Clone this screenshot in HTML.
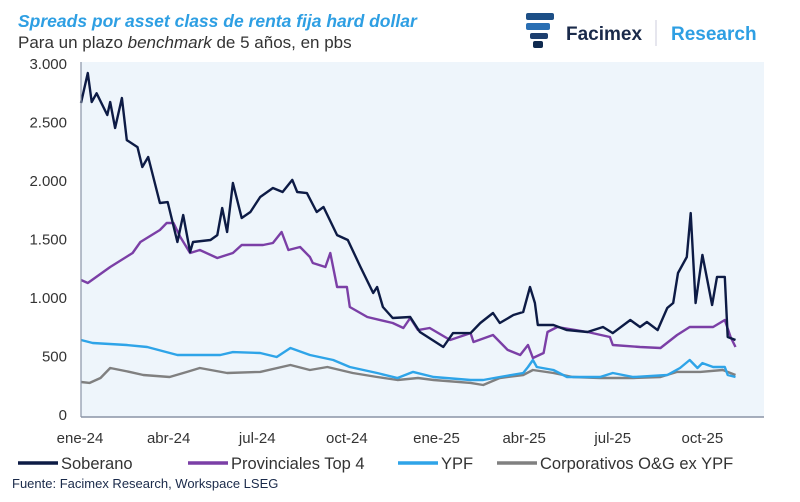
<!DOCTYPE html>
<html><head><meta charset="utf-8"><style>
body{margin:0;background:#fff;width:800px;height:502px;overflow:hidden;font-family:"Liberation Sans",sans-serif;}
svg{display:block}
</style></head><body>
<svg id="chart" width="800" height="502" xmlns="http://www.w3.org/2000/svg">
<text x="18" y="27" font-size="17.5" font-style="italic" font-weight="bold" fill="#2e9fe3">Spreads por asset class de renta fija hard dollar</text>
<text x="18" y="48" font-size="17" fill="#333">Para un plazo <tspan font-style="italic">benchmark</tspan> de 5 años, en pbs</text>
<g>
<rect x="526" y="13" width="28" height="7" rx="2" fill="#1d4f86"/>
<rect x="526" y="23" width="24" height="7" rx="2" fill="#2a6fb3"/>
<rect x="530" y="33" width="18" height="6" rx="2" fill="#1d3f6e"/>
<rect x="533" y="41" width="10" height="7" rx="2" fill="#0f2a4f"/>
<text x="566" y="40" font-size="19" font-weight="bold" fill="#1a2a4a">Facimex</text>
<line x1="656" y1="20" x2="656" y2="46" stroke="#ccd" stroke-width="1"/>
<text x="671" y="40" font-size="19" font-weight="bold" fill="#2e9fe3">Research</text>
</g>
<rect x="81" y="62" width="683" height="355" fill="#eef5fb"/>
<g id="yaxis"></g><g id="xaxis"></g><g id="series"></g>
<line x1="81" y1="62" x2="81" y2="417" stroke="#8a94a6" stroke-width="1.2"/>
<line x1="81" y1="417" x2="764" y2="417" stroke="#8a94a6" stroke-width="1.5"/>
<g id="legend"></g>
<text x="12" y="488" font-size="13" fill="#1a2a4a">Fuente: Facimex Research, Workspace LSEG</text>
</svg>
<script>
const yTicks=[0,500,1000,1500,2000,2500,3000];
const yTickLabels=["0","500","1.000","1.500","2.000","2.500","3.000"];
const xTickDays=[0,91,182,274,366,456,547,639];
const xTickLabels=["ene-24","abr-24","jul-24","oct-24","ene-25","abr-25","jul-25","oct-25"];
const seriesNames=["Soberano","Provinciales Top 4","YPF","Corporativos O&G ex YPF"];
const soberanoDays=[1,8,12,17,28,31,36,43,48,59,64,70,82,90,100,106,113,116,134,141,146,151,157,166,175,185,198,208,218,223,233,243,250,264,275,288,301,305,311,321,339,349,373,383,401,411,424,431,445,455,462,467,470,486,500,521,537,547,565,575,582,593,603,609,614,623,627,632,639,644,649,654,662,665,673];
const soberanoVals=[2667,2923,2675,2750,2564,2675,2453,2709,2350,2290,2120,2205,1812,1820,1479,1709,1393,1479,1496,1538,1769,1564,1983,1684,1735,1863,1940,1906,2009,1906,1897,1735,1778,1538,1496,1265,1043,1094,923,829,838,709,581,700,700,786,872,786,855,880,1094,957,769,769,726,709,752,700,812,752,795,726,915,957,1214,1350,1726,957,1368,1154,940,1180,1180,667,641];
const provDays=[1,8,31,54,62,82,89,96,103,113,123,141,157,166,188,198,207,214,226,236,239,252,257,264,274,277,295,321,332,339,347,359,380,401,404,424,439,452,460,465,476,480,490,521,544,547,575,596,613,626,650,662,668,673];
const provVals=[1154,1128,1265,1385,1479,1581,1641,1641,1521,1385,1410,1342,1385,1453,1453,1470,1564,1410,1436,1350,1299,1265,1385,1094,1094,923,838,786,744,829,726,744,641,700,624,684,556,513,598,487,530,709,752,709,667,598,581,573,684,752,752,812,667,581];
const ypfDays=[1,13,48,69,100,123,144,157,185,202,216,236,260,277,305,326,342,363,401,414,431,455,460,465,469,486,500,534,547,568,603,616,626,634,639,650,662,665,673];
const ypfVals=[641,615,598,581,513,513,513,538,530,496,573,513,470,410,359,316,368,325,299,299,325,359,410,470,410,385,325,325,359,325,342,402,470,402,444,410,410,342,325];
const corpDays=[1,10,21,31,51,65,92,110,123,151,185,216,236,254,280,305,326,347,363,401,414,431,455,465,486,506,534,568,596,613,637,660,673];
const corpVals=[282,274,316,402,368,342,325,368,402,359,368,427,385,410,359,325,299,316,299,274,256,316,342,385,359,325,316,316,325,368,368,385,342];
const colors=["#0d1b45","#7b3fa6","#2ea4e8","#808080"];
const NS="http://www.w3.org/2000/svg";
const x0=80,pxPerDay=0.974,yBase=415,pxPerUnit=0.117;
function xScale(d){return x0+d*pxPerDay;}
function yScale(v){return yBase-v*pxPerUnit;}
function mk(t,a){const e=document.createElementNS(NS,t);for(const k in a)e.setAttribute(k,a[k]);return e;}
const ya=document.getElementById('yaxis');
yTicks.forEach((v,i)=>{const t=mk('text',{x:67,y:yScale(v)+5,'font-size':15,'text-anchor':'end',fill:'#333'});


t.textContent=yTickLabels[i];ya.appendChild(t);});
const xa=document.getElementById('xaxis');
xTickDays.forEach((d,i)=>{const t=mk('text',{x:xScale(d),y:443,'font-size':15,'text-anchor':'middle',fill:'#333'});


t.textContent=xTickLabels[i];xa.appendChild(t);});
const sg=document.getElementById('series');
const allDays=[soberanoDays,provDays,ypfDays,corpDays],allVals=[soberanoVals,provVals,ypfVals,corpVals];
const order=[3,2,1,0];
order.forEach(s=>{const pts=allDays[s].map((d,i)=>xScale(d).toFixed(1)+','+yScale(allVals[s][i]).toFixed(1)).join(' ');
const p=mk('polyline',{points:pts,fill:'none',stroke:colors[s],'stroke-width':2.4,'stroke-linejoin':'round'});


sg.appendChild(p);});
const lg=document.getElementById('legend');
const legX=[18,188,398,497];
seriesNames.forEach((n,i)=>{const g=mk('g',{});


g.appendChild(mk('line',{x1:legX[i],y1:463,x2:legX[i]+40,y2:463,stroke:colors[i],'stroke-width':3.5}));
const t=mk('text',{x:legX[i]+43,y:469,'font-size':16.5,fill:'#333'});t.textContent=n;g.appendChild(t);lg.appendChild(g);});
</script>
</body></html>
